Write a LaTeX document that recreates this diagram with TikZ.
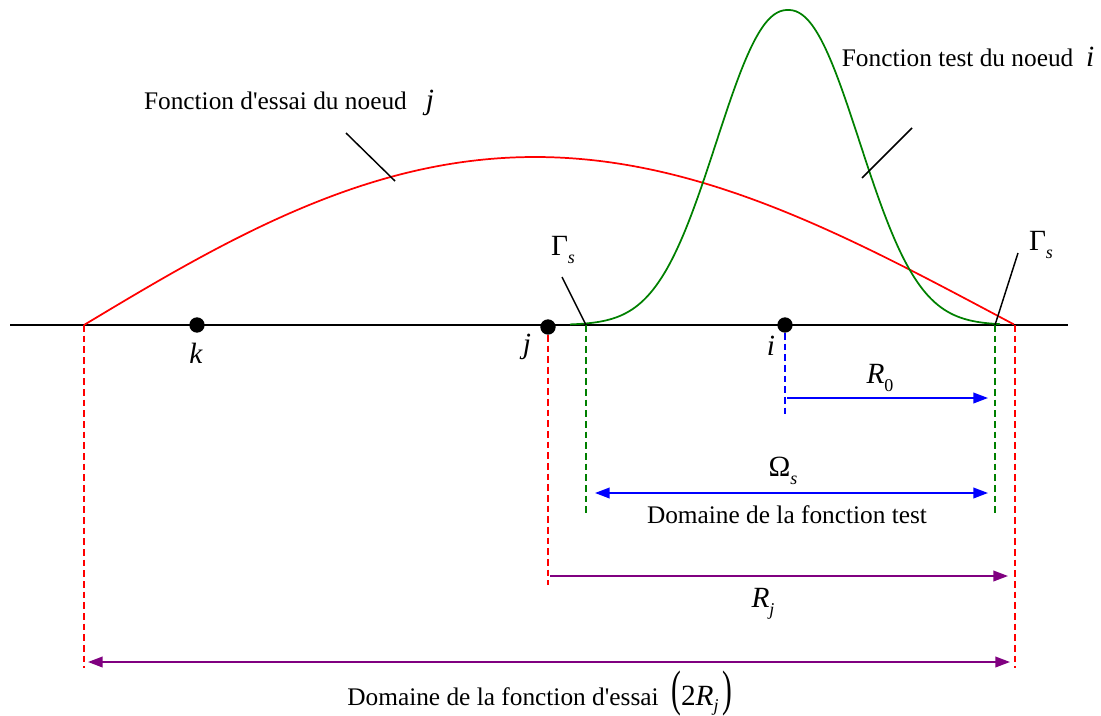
\documentclass[tikz,border=0pt]{standalone}
\usepackage{fontspec}
\setmainfont{Liberation Serif}
\usetikzlibrary{arrows.meta}
\newcommand{\sbs}[1]{\raisebox{-0.55ex}{\fontsize{13.5}{14}\selectfont #1}}
\newcommand{\mth}{\fontsize{22}{23}\selectfont}
\begin{document}
\begin{tikzpicture}[x=0.75pt,y=-0.75pt,
  every node/.style={font=\fontsize{19}{21}\selectfont, inner sep=0pt},
  curve/.style={line width=1.3pt},
  dsh/.style={line width=1.2pt, dash pattern=on 5pt off 3pt},
  dot/.style={circle, fill=black, minimum size=11.5, inner sep=0pt},
  lead/.style={line width=1.1pt, black},
  arr/.style={line width=1.3pt, -{Triangle[length=11pt,width=8pt]}},
  darr/.style={line width=1.3pt, {Triangle[length=11pt,width=8pt]}-{Triangle[length=11pt,width=8pt]}}]
\definecolor{dgreen}{RGB}{0,128,0}
\definecolor{purp}{RGB}{128,0,128}
\useasboundingbox (0,0) rectangle (1101,715);

% axis
\coordinate (axL) at (10,325);
\coordinate (axR) at (1068,325);
\draw[line width=1.3pt] (axL) -- (axR);

% curves
\draw[curve, red] plot[domain=0:1, samples=120, smooth, variable=\u] ({84+931*\u}, {325-168*sin(180*(\u+0.0625*\u*(1-\u)))});
\draw[curve, dgreen] plot[domain=570:1000, samples=140, smooth] (\x, {325-315*exp(-0.5*((abs(\x-788)+0.01)/69)^2.2)});

% nodes
\node[dot] (k) at (197,325) {};
\node[dot] (j) at (548,327) {};
\node[dot] (i) at (785,325) {};
\node (kl) at (196,353) {\mth\itshape k};
\node (jl) at (527,347) {\mth\itshape j};
\node (il) at (771,346) {\mth\itshape i};

% dashed verticals
\coordinate (rL1) at (84,325);   \coordinate (rL2) at (84,668);
\coordinate (rM2) at (548,585);
\coordinate (rR1) at (1015,325); \coordinate (rR2) at (1015,668);
\coordinate (gL1) at (586,325);  \coordinate (gL2) at (586,515);
\coordinate (gR1) at (995,325);  \coordinate (gR2) at (995,515);
\coordinate (bI2) at (785,415);
\draw[dsh, red] (rL1) -- (rL2);
\draw[dsh, red] (j) -- (rM2);
\draw[dsh, red] (rR1) -- (rR2);
\draw[dsh, dgreen] (gL1) -- (gL2);
\draw[dsh, dgreen] (gR1) -- (gR2);
\draw[dsh, blue] (i) -- (bI2);

% arrows
\coordinate (r0a) at (787,398); \coordinate (r0b) at (988,398);
\draw[arr, blue] (r0a) -- (r0b);
\node (R0) at (880,378) {\mth{\itshape R}\sbs{0}};

\coordinate (oma) at (595,493); \coordinate (omb) at (988,493);
\draw[darr, blue] (oma) -- (omb);
\node (Om) at (783,471) {\mth Ω\sbs{\itshape s}};
\node (dft) at (787,515) {Domaine de la fonction test};

\coordinate (rja) at (550,576); \coordinate (rjb) at (1008,576);
\draw[arr, purp] (rja) -- (rjb);
\node (Rj) at (763,604) {\mth{\itshape R}\sbs{\itshape j}};

\coordinate (da) at (88,662); \coordinate (db) at (1010,662);
\draw[darr, purp] (da) -- (db);
\node (dfe) at (540,693) {Domaine de la fonction d\textquotesingle essai\ \ \scalebox{1}[1.7]{\mth(}{\mth 2{\itshape R}}\sbs{\itshape j}\,\scalebox{1}[1.7]{\mth)}};

% labels with leader lines
\node (fe) at (289,103) {Fonction d\textquotesingle essai du noeud\ \ \ {\mth\itshape j}};
\coordinate (fe1) at (346,133); \coordinate (fe2) at (395,181);
\draw[lead] (fe1) -- (fe2);

\node (ft) at (968,57) {Fonction test du noeud\ \ {\mth\itshape i}};
\coordinate (ft1) at (912,128); \coordinate (ft2) at (862,178);
\draw[lead] (ft1) -- (ft2);

\node (gs1) at (563,250) {\mth Γ\sbs{\itshape s}};
\coordinate (g11) at (562,277);
\draw[lead] (g11) -- (gL1);

\node (gs2) at (1041,245) {\mth Γ\sbs{\itshape s}};
\coordinate (g21) at (1018,253);
\draw[lead] (g21) -- (gR1);
\end{tikzpicture}
\end{document}
